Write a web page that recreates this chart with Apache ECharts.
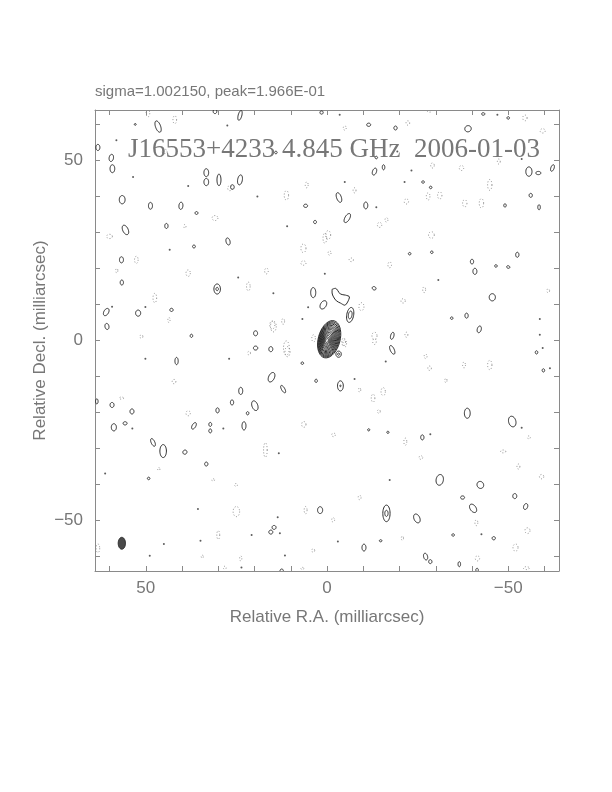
<!DOCTYPE html>
<html>
<head>
<meta charset="utf-8">
<script src="https://cdn.jsdelivr.net/npm/echarts@6/dist/echarts.min.js"></script>
<style>
html,body{margin:0;padding:0;background:#fff;}
#chart{width:612px;height:792px;}
</style>
</head>
<body>
<div id="chart"></div>
<script>
// Tick values (milliarcsec)
const tickValues = [-60,-50,-40,-30,-20,-10,0,10,20,30,40,50,60];
const labelValues = [-50,0,50];

// Positive contours: [RA, Dec, width, height, tilt(deg)]  (mas)
const posBlobs = [
 [30.9,63.6,1.0,1.2,0],[24.0,62.5,1.0,2.8,15],[1.5,63.3,0.9,0.9,0],[46.6,59.4,1.4,3.3,-20],
 [63.2,53.6,1.1,1.7,0],[59.5,50.7,1.2,2.0,10],[59.2,47.7,1.3,2.2,0],[33.3,46.6,1.3,2.2,0],
 [33.3,44.0,1.3,2.0,0],[29.8,44.6,1.1,3.2,0],[26.1,42.6,1.0,1.3,0],[24.0,44.6,1.3,2.8,10],
 [56.5,39.1,1.6,2.3,0],[48.7,37.4,1.1,1.9,0],[40.3,37.4,1.1,2.0,5],[36.0,35.4,0.8,0.8,0],
 [5.9,37.4,1.1,0.9,0],[3.3,32.9,0.8,0.9,0],[55.6,30.7,1.5,2.8,-25],[44.3,31.8,0.9,1.4,0],
 [27.3,27.5,1.1,2.0,-15],[36.7,26.1,0.8,0.8,0],[56.7,22.4,1.1,1.7,0],[56.6,16.1,0.9,1.4,0],
 [30.3,14.3,1.8,2.8,0],[30.3,14.3,0.7,0.9,0],[3.8,13.3,1.4,2.8,0],[1.0,9.9,1.6,2.5,30],
 [60.9,7.9,1.3,2.2,30],[52.1,7.6,1.4,1.7,0],[42.9,8.5,0.9,0.9,0],[60.7,3.9,1.1,1.7,-10],
 [19.7,2.0,1.1,1.4,0],[37.4,1.3,0.7,0.9,0],[14.1,52.2,0.7,0.7,0],[52.9,60.0,0.5,0.5,0],
 [-43.1,62.9,0.9,0.7,0],[-50.0,61.8,0.7,0.7,0],[-11.5,59.9,1.1,0.9,0],[-18.9,59.0,0.9,1.1,0],
 [-38.9,58.8,1.8,1.7,-30],[-13.6,50.8,0.7,0.7,0],[-13.1,46.9,1.1,2.0,20],[-15.6,48.1,0.7,1.4,0],
 [-55.7,46.9,1.7,2.6,0],[-58.3,46.5,1.4,0.9,0],[-62.2,47.9,0.9,1.9,20],[-26.5,44.0,0.7,0.7,0],
 [-28.6,42.5,0.7,0.7,0],[-3.3,39.7,1.3,2.8,-20],[-10.7,37.5,1.1,1.9,0],[-56.2,40.3,0.9,1.1,0],
 [-49.1,37.5,0.7,0.9,0],[-58.5,37.0,0.7,1.4,0],[-5.6,34.0,1.3,2.8,30],[-22.8,24.1,0.7,0.7,0],
 [-28.9,24.5,0.7,0.7,0],[-52.5,23.8,0.9,1.4,0],[-40.0,21.9,0.9,1.3,0],[-40.8,19.2,1.1,1.7,0],
 [-46.6,20.7,0.7,0.7,0],[-50.0,20.4,0.9,0.7,20],[-13.0,14.5,1.1,0.9,30],[-45.6,12.0,1.7,2.0,0],
 [-6.4,7.1,1.9,4.2,10],[-6.4,7.1,1.0,2.2,10],[-34.4,6.2,0.7,0.7,0],[-38.5,6.9,0.9,1.4,0],
 [-42.0,3.1,1.1,1.9,15],[-18.0,1.3,0.9,2.0,15],
 [19.7,-2.1,1.2,1.1,0],[15.5,-2.4,1.1,1.4,0],[41.5,-5.7,0.9,2.0,0],[6.8,-6.3,0.7,0.7,0],
 [15.3,-10.2,1.6,2.8,25],[3.0,-11.2,0.7,0.9,0],[12.1,-13.5,0.9,2.3,-30],[23.8,-14.0,1.1,2.0,0],
 [19.9,-18.1,1.6,2.8,-20],[63.5,-16.9,0.7,1.4,0],[59.3,-17.9,1.1,1.4,0],[53.8,-19.7,1.1,1.4,0],
 [26.2,-17.2,0.9,1.4,0],[30.2,-19.4,0.9,1.4,0],[21.9,-20.2,0.7,0.9,0],[58.8,-24.1,1.4,2.0,0],
 [55.7,-23.0,1.1,0.9,0],[36.7,-23.7,1.0,2.0,30],[32.2,-23.3,0.8,1.1,0],[32.2,-25.1,0.8,1.1,0],
 [22.9,-23.7,1.1,2.3,0],[48.0,-28.3,1.0,2.3,-25],[45.2,-30.7,1.8,3.6,0],[39.2,-31.0,1.1,1.2,40],
 [33.3,-34.3,0.9,1.1,0],[49.2,-38.3,0.7,0.7,0],[1.9,-47.1,1.4,1.9,0],[15.5,-53.2,1.1,1.1,0],
 [14.6,-51.9,1.1,1.1,0],[12.5,-63.9,0.9,0.9,0],
 [-3.2,-3.8,1.5,1.7,0],[-3.2,-3.8,0.6,0.6,0],[-18.0,-2.6,1.1,2.6,-25],[-3.7,-12.6,1.6,2.8,0],
 [-3.7,-12.6,0.4,0.4,0],[-38.7,-20.2,1.6,2.8,0],[-51.1,-22.5,2.0,3.0,-15],[-26.3,-26.9,0.9,1.4,0],
 [-31.1,-38.7,2.0,3.0,10],[-42.3,-40.1,1.8,2.0,-30],[-37.4,-43.6,1.1,0.9,0],[-51.8,-43.2,1.1,1.4,0],
 [-54.8,-46.1,1.1,1.7,20],[-40.3,-46.6,1.6,2.6,-35],[-16.4,-48.0,2.0,4.6,0],[-16.4,-48.0,0.9,1.7,0],
 [-24.8,-49.4,1.6,2.6,-25],[-14.8,-55.6,0.7,0.6,0],[-46.0,-54.9,0.9,0.9,0],[-34.8,-54.0,0.7,0.7,0],
 [-10.2,-57.5,1.1,1.9,0],[-27.2,-60.0,1.1,1.9,-15],[-28.5,-61.4,0.9,1.1,0],[-36.5,-62.1,0.7,1.4,0],
 [-41.4,-63.7,0.7,0.9,0],[-59.7,-8.3,0.7,0.9,0],[-57.8,-3.3,0.7,0.9,0],[-11.5,-24.8,0.6,0.6,0],
 [-16.8,-25.5,0.6,0.6,0]
];

// Negative (dotted) contours: [RA, Dec, width, height] (mas)
const negBlobs = [
 [49.4,63.1,1.0,2.0],[42.0,61.3,1.0,2.2],[44.8,52.5,1.4,1.2],[26.8,42.3,1.2,1.4],[11.2,40.3,1.2,2.6],
 [5.6,43.2,0.8,1.6],[30.9,34.0,1.6,1.4],[60.0,28.9,1.6,1.2],[52.6,22.4,1.0,2.0],[38.3,18.7,1.2,1.8],
 [16.7,19.3,1.0,1.6],[6.5,25.6,1.4,2.4],[6.5,21.5,1.4,1.2],[0.6,28.4,1.0,2.8],[21.7,15.0,1.0,2.4],
 [47.5,11.8,1.0,2.6],[14.8,3.9,1.6,3.0],[12.1,5.3,0.8,1.6],[51.2,1.1,0.8,1.0],[58.0,19.4,0.6,1.2],
 [39.2,31.7,0.6,1.0],[43.6,5.7,0.6,1.4],
 [-28.3,64.0,1.6,1.2],[-22.3,60.4,1.0,1.2],[-4.9,59.0,0.8,1.2],[-54.6,61.8,1.2,1.6],[-59.5,58.2,1.4,1.2],
 [-29.1,48.6,1.0,1.4],[-37.1,47.9,1.2,1.4],[-47.4,49.7,0.8,1.4],[-44.9,43.2,1.2,3.0],[-7.6,41.7,0.8,1.4],
 [-21.9,38.6,1.2,1.4],[-27.9,40.0,1.0,2.0],[-31.1,40.3,1.2,2.0],[-38.0,38.1,1.2,2.0],[-42.6,38.1,1.2,2.6],
 [-16.4,33.5,0.8,1.2],[-14.5,32.1,1.2,1.4],[-0.3,29.3,1.4,2.4],[-28.8,29.3,1.6,1.8],[-0.7,24.3,0.8,1.2],
 [-6.7,22.4,1.2,1.0],[-17.3,21.0,1.0,1.6],[-26.8,14.1,0.8,1.6],[-9.5,9.4,1.4,2.2],[-21.0,11.0,1.2,1.2],
 [-61.0,13.8,0.8,1.0],[-13.1,1.3,1.4,2.0],[-21.9,1.6,0.8,1.4],
 [15.1,4.3,1.4,2.2],[11.2,-2.1,1.6,4.0],[3.7,0.6,1.0,2.0],[-4.6,-0.4,1.0,2.2],
 [21.5,-3.5,0.8,1.0],[10.9,-3.1,1.4,2.8],[42.2,-11.4,1.0,1.2],[56.7,-16.0,1.2,0.6],[38.3,-20.2,1.2,1.4],
 [17.0,-30.4,1.0,4.0],[6.4,-23.3,1.2,1.6],[46.4,-35.7,0.6,0.8],[31.4,-38.7,0.8,0.6],[25.1,-40.1,0.8,0.8],
 [25.0,-47.5,1.8,2.8],[5.9,-47.1,0.8,2.0],[30.0,-54.0,0.8,2.4],[23.8,-60.5,0.6,1.4],[28.2,-63.1,0.8,0.8],
 [3.8,-58.3,0.8,1.0],[63.2,-57.7,1.0,2.4],[6.8,-63.3,0.8,0.6],[34.4,-60.0,0.6,0.8],
 [-4.9,-0.8,1.0,2.0],[-13.1,-0.3,1.0,1.6],[-27.2,-4.4,0.8,1.2],[-28.3,-7.7,1.0,1.2],[-37.8,-6.8,0.8,1.6],
 [-44.9,-6.8,1.2,2.6],[-32.8,-11.1,0.6,1.2],[-9.0,-13.7,0.6,1.2],[-12.7,-16.0,1.0,2.2],[-15.5,-14.2,1.2,2.2],
 [-14.3,-19.7,0.8,1.0],[-1.8,-26.2,1.0,1.0],[-21.6,-28.1,0.8,2.0],[-25.9,-32.5,1.0,1.0],[-48.6,-30.8,1.4,0.8],
 [-55.7,-26.9,0.8,0.8],[-52.8,-35.0,0.8,1.4],[-59.2,-37.8,1.2,1.2],[-9.0,-43.6,0.8,1.2],[-1.7,-49.8,0.8,1.2],
 [-20.8,-54.9,0.6,1.2],[-41.2,-50.6,0.8,1.6],[-55.3,-52.8,1.4,1.6],[-52.0,-57.5,1.4,2.0],[-41.5,-60.5,1.2,1.4],
 [-55.0,-63.2,1.6,0.8]
];

// Unresolved single-pixel contour spots: [RA, Dec]
const dots = [
 [27.5,59.7],[58.1,55.6],[53.5,45.4],[38.3,42.9],[19.2,40.0],[11.0,31.7],[0.6,18.5],[24.5,17.5],
 [14.8,13.1],[5.2,9.2],[6.8,6.0],[43.4,25.2],[59.3,9.4],[50.1,9.3],
 [-3.5,62.7],[-47.0,62.7],[-53.7,50.4],[-23.3,47.2],[-4.9,44.0],[-21.4,44.0],[-13.6,37.0],
 [-58.7,6.0],[-58.7,1.6],[-19.4,52.5],[-30.7,16.8],
 [50.1,-5.1],[27.0,-5.1],[28.6,-24.4],[13.3,-31.3],[35.6,-46.8],[13.6,-49.1],[45.0,-56.5],
 [34.9,-55.6],[48.9,-59.8],[11.6,-59.7],[23.6,-63.0],[20.8,-54.0],[53.7,-24.4],[61.2,-36.9],[13.0,-53.5],
 [-61.5,-7.7],[-59.5,-2.1],[-3.0,-55.8],[-42.6,-53.8],[-16.2,-5.8],[-7.6,-10.7],[-17.3,-38.7],
 [-28.5,-26.0],[-53.7,-24.2]
];

// Core component contour levels (mas): widths, heights, centre offsets
const coreW  = [6.0, 5.6, 5.2, 4.8, 4.4, 4.0, 3.6, 3.2, 2.8, 2.4, 2.0, 1.6, 1.2, 0.7];
const coreH  = [10.6,10.0, 9.4, 8.8, 8.1, 7.4, 6.7, 6.0, 5.2, 4.4, 3.6, 2.8, 2.0, 1.2];
const coreDX = [-0.6,-0.55,-0.5,-0.45,-0.4,-0.35,-0.3,-0.25,-0.2,-0.15,-0.1,-0.05,0,0];
const coreDY = [0.35,0.33,0.3,0.28,0.25,0.22,0.2,0.17,0.14,0.11,0.08,0.05,0.02,0];
const coreTilt = 15;

// Extended emission north-west of core (contour vertices, mas)
const featureX = [-1.4,-2.3,-3.7,-5.1,-6.2,-5.7,-4.9,-3.7,-2.6,-1.8,-1.4,-1.4];
const featureY = [14.2,14.5,12.9,12.6,12.1,10.7,9.8,10.4,11.0,12.1,13.2,14.2];

// Restoring beam: [RA, Dec, width, height]
const beam = [56.6, -56.3, 2.0, 3.3];

const chart = echarts.init(document.getElementById('chart'), null, {renderer: 'canvas'});

function ellipsePoints(api, x, y, w, h, tiltDeg) {
  const c = api.coord([x, y]);
  const s = api.size([w, h]);
  const rx = Math.abs(s[0]) / 2, ry = Math.abs(s[1]) / 2;
  const t = tiltDeg * Math.PI / 180;
  const pts = [];
  const n = 36;
  for (let k = 0; k < n; k++) {
    const a = k / n * Math.PI * 2;
    const lx = rx * Math.cos(a), ly = ry * Math.sin(a);
    pts.push([c[0] + lx * Math.cos(t) - ly * Math.sin(t), c[1] + lx * Math.sin(t) + ly * Math.cos(t)]);
  }
  return pts;
}

function ellipseSeries(name, data, style, hasTilt) {
  return {
    type: 'custom', name: name, clip: true, silent: true,
    encode: {x: 0, y: 1},
    data: data,
    renderItem: function (params, api) {
      const tilt = hasTilt ? api.value(4) : 0;
      return {
        type: 'polygon',
        shape: {points: ellipsePoints(api, api.value(0), api.value(1), api.value(2), api.value(3), tilt)},
        style: style
      };
    }
  };
}

const fmt = v => (v < 0 ? '\u2212' + Math.abs(v) : String(v));
const axisColor = '#8a8a8a';
const textColor = '#777';

function xAx(pos, main) {
  return {
    type: 'value', min: -64, max: 64, inverse: true, position: pos,
    axisLine: {show: true, onZero: false, lineStyle: {color: axisColor, width: 1}},
    axisTick: {show: true, inside: true, length: 5, customValues: tickValues, lineStyle: {color: axisColor}},
    axisLabel: {show: main, customValues: labelValues, formatter: fmt, margin: 9,
      color: textColor, fontFamily: 'Liberation Sans', fontSize: 17},
    splitLine: {show: false},
    name: main ? 'Relative R.A. (milliarcsec)' : '',
    nameLocation: 'middle', nameGap: 38, nameMoveOverlap: false,
    nameTextStyle: {color: textColor, fontFamily: 'Liberation Sans', fontSize: 17}
  };
}
function yAx(pos, main) {
  return {
    type: 'value', min: -64, max: 64, position: pos,
    axisLine: {show: true, onZero: false, lineStyle: {color: axisColor, width: 1}},
    axisTick: {show: true, inside: true, length: 5, customValues: tickValues, lineStyle: {color: axisColor}},
    axisLabel: {show: main, customValues: labelValues, formatter: fmt, margin: 12,
      color: textColor, fontFamily: 'Liberation Sans', fontSize: 17},
    splitLine: {show: false},
    name: main ? 'Relative Decl. (milliarcsec)' : '',
    nameLocation: 'middle', nameGap: 46, nameMoveOverlap: false,
    nameTextStyle: {color: textColor, fontFamily: 'Liberation Sans', fontSize: 17}
  };
}

const option = {
  backgroundColor: '#fff',
  animation: false,
  title: [
    {text: 'sigma=1.002150, peak=1.966E-01', left: 95, top: 84, padding: 0,
     textStyle: {color: textColor, fontFamily: 'Liberation Sans', fontSize: 15, fontWeight: 'normal'}},
    {text: 'J16553+4233 4.845 GHz  2006-01-03', left: 128, top: 136, padding: 0,
     textStyle: {color: textColor, fontFamily: 'Liberation Serif', fontSize: 27, fontWeight: 'normal'}}
  ],
  grid: {left: 95, top: 110, width: 464, height: 461, containLabel: false},
  xAxis: [xAx('bottom', true), xAx('top', false)],
  yAxis: [yAx('left', true), yAx('right', false)],
  series: [
    ellipseSeries('negative', negBlobs, {fill: 'none', stroke: '#8c8c8c', lineWidth: 1, lineDash: [1, 2]}, false),
    ellipseSeries('positive', posBlobs, {fill: 'none', stroke: '#2a2a2a', lineWidth: 1}, true),
    ellipseSeries('core', coreW.map((w, i) => [coreDX[i], coreDY[i], w, coreH[i], coreTilt]),
      {fill: 'none', stroke: '#2a2a2a', lineWidth: 1}, true),
    ellipseSeries('beam', [beam], {fill: '#4a4a4a', stroke: '#2a2a2a', lineWidth: 1}, false),
    {
      type: 'line', name: 'extended', silent: true, showSymbol: false, smooth: 0.3,
      data: featureX.map((x, i) => [x, featureY[i]]),
      lineStyle: {color: '#2a2a2a', width: 1}
    },
    {
      type: 'scatter', name: 'spots', silent: true, symbol: 'circle', symbolSize: 2,
      data: dots, itemStyle: {color: '#333'}
    }
  ]
};
chart.setOption(option);
</script>
</body>
</html>
